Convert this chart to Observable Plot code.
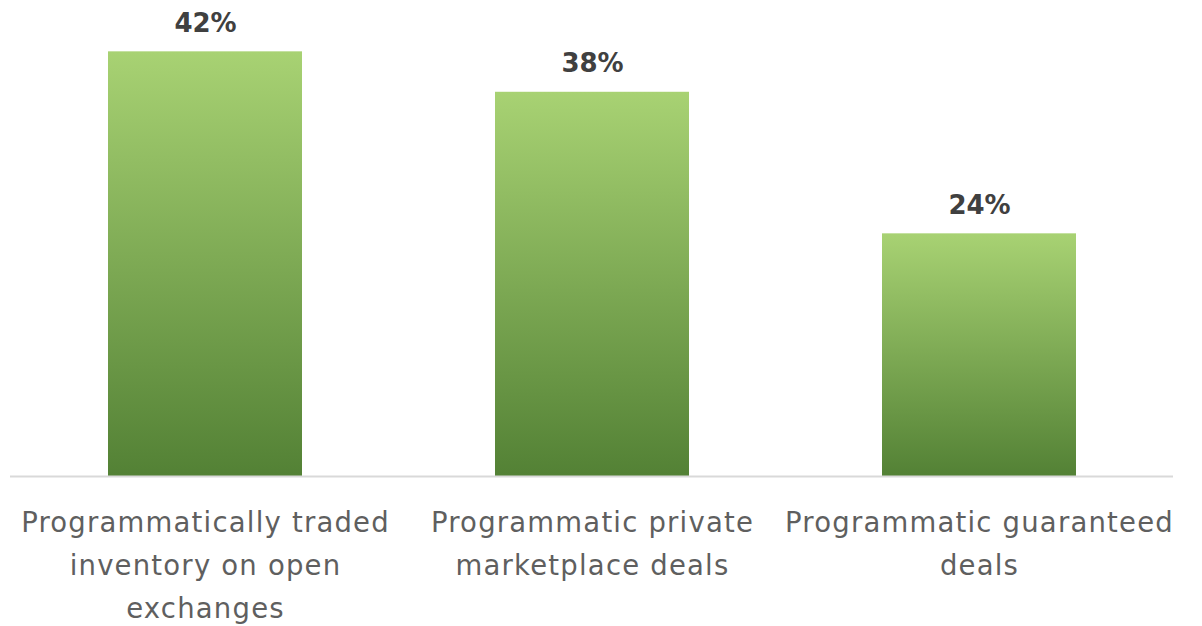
<!DOCTYPE html>
<html>
<head>
<meta charset="utf-8">
<script src="https://cdn.jsdelivr.net/npm/d3@7"></script>
<script src="https://cdn.jsdelivr.net/npm/@observablehq/plot@0.6"></script>
<style>
  html, body { margin: 0; padding: 0; background: #ffffff; }
  #chart svg { display: block; }
  #chart g[aria-label="x-axis tick label"] text { letter-spacing: 1.2px; }
</style>
</head>
<body>
<div id="chart"></div>
<script>
const categories = [
  "Programmatically traded inventory on open exchanges",
  "Programmatic private marketplace deals",
  "Programmatic guaranteed deals"
];
const tickLabels = [
  "Programmatically traded\ninventory on open\nexchanges",
  "Programmatic private\nmarketplace deals",
  "Programmatic guaranteed\ndeals"
];
const values = [42, 38, 24];
const valueLabels = ["42%", "38%", "24%"];

const data = categories.map((c, i) => ({category: c, value: values[i], label: valueLabels[i], tick: tickLabels[i]}));
const tickMap = new Map(categories.map((c, i) => [c, tickLabels[i]]));

const chart = Plot.plot({
  width: 1202,
  height: 626,
  marginLeft: 10,
  marginRight: 29,
  marginTop: 21,
  marginBottom: 150,
  style: {fontFamily: "'DejaVu Sans', sans-serif", background: "#ffffff"},
  x: {domain: categories, paddingInner: 0.5, paddingOuter: 0.25, label: null},
  y: {domain: [0, 45], axis: null},
  marks: [
    Plot.barY(data, {x: "category", y: "value", fill: "url(#barGrad)"}),
    Plot.ruleY([0], {stroke: "#d9d9d9", strokeWidth: 2}),
    Plot.text(data, {x: "category", y: "value", text: "label", lineAnchor: "bottom", dy: -20,
      fontSize: 26, fontWeight: "bold", fill: "#404040"}),
    Plot.axisX({tickSize: 0, tickPadding: 25, fontSize: 27.5, lineHeight: 1.56, fill: "#5f5f5f",
      fontWeight: "normal", tickFormat: d => tickMap.get(d), label: null})
  ]
});

const svg = d3.select(chart);
const defs = svg.insert("defs", ":first-child");
const g = defs.append("linearGradient").attr("id", "barGrad")
  .attr("x1", 0).attr("y1", 0).attr("x2", 0).attr("y2", 1);
g.append("stop").attr("offset", "0%").attr("stop-color", "#a8d273");
g.append("stop").attr("offset", "100%").attr("stop-color", "#538135");

document.getElementById("chart").appendChild(chart);
</script>
</body>
</html>
